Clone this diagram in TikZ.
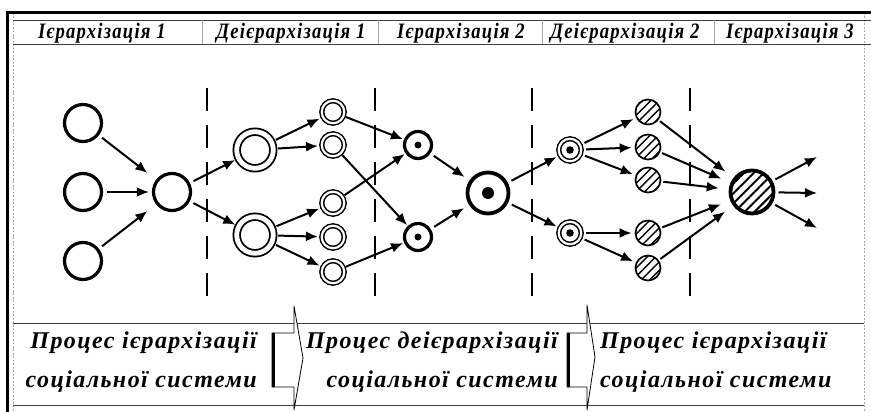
\documentclass[tikz,border=0pt]{standalone}
\usepackage{fontspec}
\setmainfont{Liberation Serif}
\newfontfamily\hdrfont[LetterSpace=5.5,FakeStretch=0.85]{Liberation Serif}
\newfontfamily\btmfont[LetterSpace=6]{Liberation Serif}
\usetikzlibrary{arrows.meta,patterns.meta}
\begin{document}
\begin{tikzpicture}[x=1pt,y=-1pt,
  plainc/.style={circle,draw,line width=3.2pt,minimum size=37pt,inner sep=0pt},
  dblbig/.style={circle,draw,double,line width=1.8pt,double distance=4.8pt,minimum size=36.6pt,inner sep=0pt},
  dblsmall/.style={circle,draw,double,line width=1.5pt,double distance=2.2pt,minimum size=22.5pt,inner sep=0pt},
  dotc/.style={circle,draw,line width=3.2pt,minimum size=27pt,inner sep=0pt,
    path picture={\fill (path picture bounding box.center) circle (3.5pt);}},
  bigdot/.style={circle,draw,line width=3.8pt,minimum size=41pt,inner sep=0pt,
    path picture={\fill (path picture bounding box.center) circle (6pt);}},
  triple/.style={dblsmall,path picture={\fill (path picture bounding box.center) circle (3.8pt);}},
  hatchc/.style={circle,draw,line width=1.7pt,minimum size=25pt,inner sep=0pt,
    pattern={Lines[angle=45,distance=6pt,line width=1.4pt]}},
  bighatch/.style={circle,draw,line width=3.8pt,minimum size=43pt,inner sep=0pt,
    pattern={Lines[angle=45,distance=7pt,line width=2pt]}},
  arr/.style={line width=2pt,-{Latex[length=12pt,width=10pt]},shorten <=4pt,shorten >=3pt},
  divider/.style={line width=1.8pt,dash pattern=on 23pt off 14pt},
  frame/.style={line width=3pt},
  grayv/.style={gray!70,line width=0.6pt,dash pattern=on 2pt off 1.5pt},
  rule/.style={black!75,line width=0.8pt},
  hdr/.style={font=\hdrfont\fontsize{22}{24}\selectfont\bfseries\itshape,inner sep=0pt},
  btm/.style={font=\btmfont\fontsize{24}{39}\selectfont\bfseries\itshape,inner sep=0pt},
  chev/.style={line width=0.8pt}
]
\useasboundingbox (0,0) rectangle (871,412);
% frame and rules
\draw[grayv] (13,13) -- (13,412);
\draw[grayv] (864,13) -- (864,412);
\draw[rule] (13,20) -- (871,20);
\draw[rule] (13,44) -- (871,44);
\foreach \xx in {202,378,542,714} \draw[gray!70,line width=0.7pt] (\xx,20) -- (\xx,44);
\draw[rule] (13,323) -- (864,323);
\draw[rule] (13,405) -- (864,405);
\draw[frame] (7,412) -- (7,13) -- (871,13);
% headers
\node[hdr] (h-a) at (102,33) {Ієрархізація 1};
\node[hdr] (h-b) at (291,33) {Деієрархізація 1};
\node[hdr] (h-c) at (461,33) {Ієрархізація 2};
\node[hdr] (h-d) at (625,33) {Деієрархізація 2};
\node[hdr] (h-e) at (790,33) {Ієрархізація 3};
% dividers
\foreach \xx in {207,375,532,690} \draw[divider] (\xx,88) -- (\xx,300);
% nodes
\node[plainc] (c1) at (83,123) {};
\node[plainc] (c2) at (83,192) {};
\node[plainc] (c3) at (83,261) {};
\node[plainc] (c0) at (172,192) {};
\node[dblbig] (b1) at (255,150) {};
\node[dblbig] (b2) at (255,235) {};
\node[dblsmall] (s1) at (333,112) {};
\node[dblsmall] (s2) at (333,145) {};
\node[dblsmall] (s3) at (333,203) {};
\node[dblsmall] (s4) at (333,237) {};
\node[dblsmall] (s5) at (333,272) {};
\node[dotc] (d1) at (418,145) {};
\node[dotc] (d2) at (418,237) {};
\node[bigdot] (dd) at (488,193) {};
\node[triple] (t1) at (570,150) {};
\node[triple] (t2) at (570,233) {};
\node[hatchc] (k1) at (648,112) {};
\node[hatchc] (k2) at (648,147) {};
\node[hatchc] (k3) at (648,180) {};
\node[hatchc] (k4) at (648,233) {};
\node[hatchc] (k5) at (648,268) {};
\node[bighatch] (hh) at (752,192) {};
\coordinate (o1) at (817,157);
\coordinate (o2) at (817,193);
\coordinate (o3) at (817,228);
% connectors
\draw[arr,shorten >=11pt] (c1) -- (c0);
\draw[arr] (c2) -- (c0);
\draw[arr,shorten >=11pt] (c3) -- (c0);
\draw[arr] (c0) -- (b1);
\draw[arr] (c0) -- (b2);
\draw[arr] (b1) -- (s1);
\draw[arr] (b1) -- (s2);
\draw[arr] (b2) -- (s3);
\draw[arr] (b2) -- (s4);
\draw[arr] (b2) -- (s5);
\draw[arr,shorten <=2pt,shorten >=1pt] (s1) -- (d1);
\draw[arr,shorten <=2pt,shorten >=1pt] (s3) -- (d1);
\draw[arr,shorten <=2pt,shorten >=1pt] (s2) -- (d2);
\draw[arr,shorten <=2pt,shorten >=1pt] (s5) -- (d2);
\draw[arr,shorten >=6pt] (d1) -- (dd);
\draw[arr,shorten >=6pt] (d2) -- (dd);
\draw[arr] (dd) -- (t1);
\draw[arr] (dd) -- (t2);
\draw[arr] (t1) -- (k1);
\draw[arr] (t1) -- (k2);
\draw[arr] (t1) -- (k3);
\draw[arr] (t2) -- (k4);
\draw[arr] (t2) -- (k5);
\foreach \k in {k1,k2,k3,k4,k5} \draw[arr,shorten <=2pt,shorten >=11pt] (\k) -- (hh);
\draw[arr,shorten >=0pt] (hh) -- (o1);
\draw[arr,shorten >=0pt] (hh) -- (o2);
\draw[arr,shorten >=0pt] (hh) -- (o3);
% bottom texts
\node[btm,anchor=east,align=right] (p1) at (257,362) {Процес ієрархізації\\соціальної системи};
\node[btm,anchor=east,align=right] (p2) at (558,362) {Процес деієрархізації\\соціальної системи};
\node[btm,anchor=west,align=left] (p3) at (600,362) {Процес ієрархізації\\соціальної системи};
% chevrons
\draw[chev,fill=white] (272,333) -- (294,333) -- (294,306) -- (303,358) -- (294,410) -- (294,387) -- (272,387) -- cycle;
\draw[line width=3pt] (273,333) -- (273,387);
\draw[chev,fill=white] (567,333) -- (587,333) -- (587,305) -- (595,357) -- (587,410) -- (587,387) -- (567,387) -- cycle;
\draw[line width=3pt] (568,333) -- (568,387);
\end{tikzpicture}
\end{document}
